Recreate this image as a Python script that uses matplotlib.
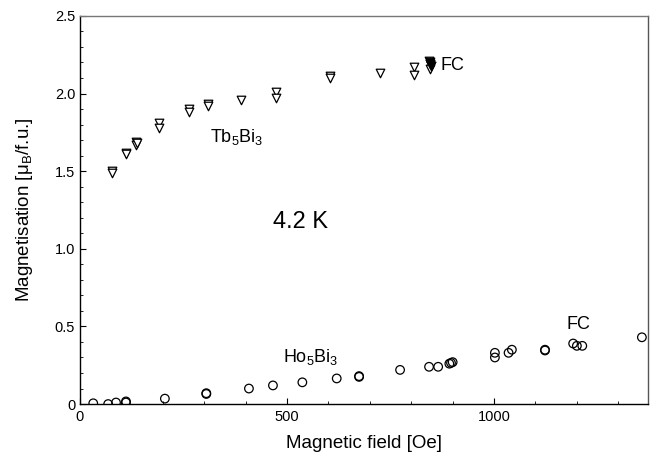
import matplotlib
matplotlib.use("Agg")
import matplotlib.pyplot as plt
from matplotlib.ticker import MultipleLocator, FuncFormatter

plt.rcParams['font.family'] = ['Liberation Sans', 'DejaVu Sans']

# Tb5Bi3 (open down-triangles)
tb_field = [77, 77, 110, 110, 135, 135, 137, 191, 191, 263, 263, 310, 310, 389, 473, 473,
            604, 604, 725, 807, 807, 843, 845, 847, 845]
tb_mag = [1.50, 1.49, 1.62, 1.61, 1.69, 1.67, 1.68, 1.81, 1.78, 1.90, 1.88, 1.93, 1.92, 1.96,
          2.01, 1.97, 2.11, 2.10, 2.13, 2.17, 2.12, 2.21, 2.19, 2.18, 2.16]
# Tb5Bi3 dense FC cluster (drawn filled)
tb_fc_field = [846, 848, 845]
tb_fc_mag = [2.19, 2.18, 2.20]

# Ho5Bi3 (open circles)
ho_field = [32, 68, 87, 111, 111, 205, 305, 305, 408, 466, 537, 620, 674, 674,
            773, 843, 865, 892, 896, 900, 1002, 1002, 1035, 1043, 1123, 1123,
            1191, 1200, 1213, 1357]
ho_mag = [0.005, 0.0, 0.01, 0.01, 0.017, 0.035, 0.07, 0.065, 0.10, 0.12, 0.14, 0.165, 0.18, 0.175,
          0.22, 0.24, 0.24, 0.26, 0.265, 0.27, 0.33, 0.30, 0.33, 0.35, 0.35, 0.345,
          0.39, 0.375, 0.375, 0.43]


def main():
    fig = plt.figure(figsize=(6.53, 4.54), dpi=100)
    ax = fig.add_axes([0.1225, 0.110, 0.87, 0.855])

    ax.scatter(tb_field, tb_mag, marker='v', s=38, facecolors='white',
               edgecolors='black', linewidths=0.9, zorder=3)
    ax.scatter(tb_fc_field, tb_fc_mag, marker='v', s=38, facecolors='black',
               edgecolors='black', linewidths=0.9, zorder=4)
    ax.scatter(ho_field, ho_mag, marker='o', s=38, facecolors='none',
               edgecolors='black', linewidths=0.9, zorder=3)

    ax.set_xlim(0, 1372)
    ax.set_ylim(0, 2.5)
    ax.xaxis.set_major_locator(MultipleLocator(500))
    ax.xaxis.set_minor_locator(MultipleLocator(100))
    ax.yaxis.set_major_locator(MultipleLocator(0.5))
    ax.yaxis.set_minor_locator(MultipleLocator(0.1))
    ax.xaxis.set_major_formatter(FuncFormatter(lambda v, p: '%d' % v))
    ax.yaxis.set_major_formatter(FuncFormatter(lambda v, p: '0' if v == 0 else '%.1f' % v))
    ax.tick_params(which='both', direction='in', labelsize=10.5, top=False, right=False)
    ax.tick_params(which='major', length=4)
    ax.tick_params(which='minor', length=2)
    ax.tick_params(axis='x', pad=4)
    for s in ax.spines.values():
        s.set_linewidth(1.0)
    ax.spines['top'].set_color('#777777')
    ax.spines['right'].set_color('#555555')

    ax.set_xlabel('Magnetic field [Oe]', fontsize=13.5, labelpad=8)
    ax.set_ylabel(r'Magnetisation [$\mathregular{\mu_B}$/f.u.]', fontsize=13.5, labelpad=14)

    ax.text(870, 2.18, 'FC', fontsize=13, va='center')
    ax.text(315, 1.72, r'Tb$\mathregular{_5}$Bi$\mathregular{_3}$', fontsize=13, va='center')
    ax.text(465, 1.17, '4.2 K', fontsize=17, va='center')
    ax.text(490, 0.30, r'Ho$\mathregular{_5}$Bi$\mathregular{_3}$', fontsize=13, va='center')
    ax.text(1175, 0.51, 'FC', fontsize=13, va='center')

    fig.savefig('out.png', dpi=100)


if __name__ == "__main__":
    main()
